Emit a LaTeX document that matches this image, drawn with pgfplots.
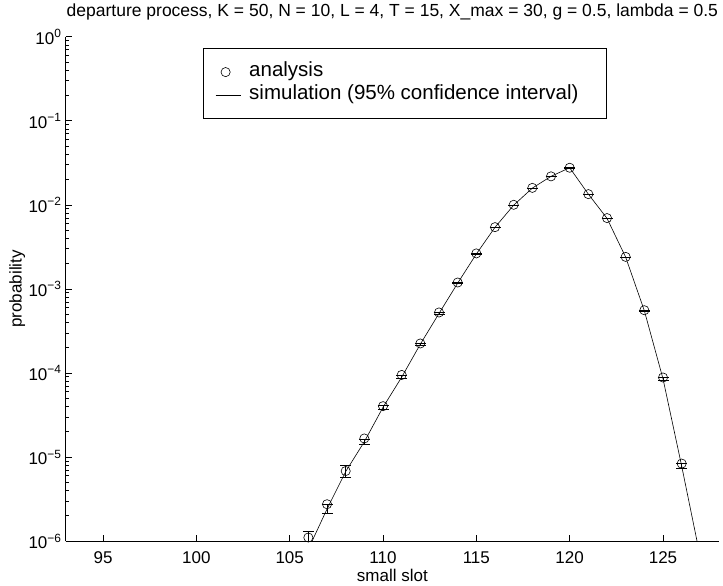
\documentclass[border=0pt]{standalone}
\usepackage{fontspec}
\setmainfont{Liberation Sans}
\usepackage{pgfplots}
\pgfplotsset{compat=1.18}
\usepackage{pgfplotstable}

\pgfplotstableread{
x y
106 1.10e-6
107 2.74e-6
108 6.80e-6
109 1.66e-5
110 4.02e-5
111 9.46e-5
112 2.24e-4
113 5.24e-4
114 1.19e-3
115 2.64e-3
116 5.42e-3
117 1.00e-2
118 1.59e-2
119 2.18e-2
120 2.76e-2
121 1.34e-2
122 6.95e-3
123 2.40e-3
124 5.57e-4
125 8.81e-5
126 8.34e-6
}\analysis

\pgfplotstableread{
x y ep em
106 8.0e-7 5.1e-7 4.0e-7
107 2.4e-6 3.5e-7 2.5e-7
108 6.7e-6 1.26e-6 1.01e-6
109 1.52e-5 1.2e-6 1.2e-6
110 3.9e-5 2.0e-6 2.0e-6
111 8.9e-5 3.5e-6 3.5e-6
112 2.2e-4 6.0e-6 6.0e-6
113 5.1e-4 1.0e-5 1.0e-5
114 1.17e-3 1.5e-5 1.5e-5
115 2.6e-3 2.5e-5 2.5e-5
116 5.4e-3 3.0e-5 3.0e-5
117 9.9e-3 4.0e-5 4.0e-5
118 1.58e-2 5.0e-5 5.0e-5
119 2.18e-2 6.0e-5 6.0e-5
120 2.76e-2 7.0e-5 7.0e-5
121 1.34e-2 5.0e-5 5.0e-5
122 6.9e-3 4.0e-5 4.0e-5
123 2.38e-3 2.5e-5 2.5e-5
124 5.5e-4 1.0e-5 1.0e-5
125 8.5e-5 3.0e-6 3.0e-6
126 7.8e-6 5.0e-7 5.0e-7
127 6.4e-7 0 0
}\simdata

\begin{document}
\begin{tikzpicture}
\begin{axis}[
  at={(0,0)}, anchor=south west,
  scale only axis, width=653.3bp, height=504.3bp,
  xmin=93, xmax=128, ymin=1e-6, ymax=1,
  ymode=log,
  axis lines=left,
  axis line style={-, line width=0.6bp, black},
  tick align=inside,
  major tick length=6.5bp, minor tick length=3.5bp,
  tick style={line width=0.6bp, black},
  xtick={95,100,105,110,115,120,125},
  minor xtick={},
  ytick={1e-6,1e-5,1e-4,1e-3,1e-2,1e-1,1},
  yticklabels={10\textsuperscript{−6},10\textsuperscript{−5},10\textsuperscript{−4},10\textsuperscript{−3},10\textsuperscript{−2},10\textsuperscript{−1},10\textsuperscript{0}},
  minor ytick={2e-6,3e-6,4e-6,5e-6,6e-6,7e-6,8e-6,9e-6,
               2e-5,3e-5,4e-5,5e-5,6e-5,7e-5,8e-5,9e-5,
               2e-4,3e-4,4e-4,5e-4,6e-4,7e-4,8e-4,9e-4,
               2e-3,3e-3,4e-3,5e-3,6e-3,7e-3,8e-3,9e-3,
               2e-2,3e-2,4e-2,5e-2,6e-2,7e-2,8e-2,9e-2,
               2e-1,3e-1,4e-1,5e-1,6e-1,7e-1,8e-1,9e-1},
  /pgf/number format/assume math mode=true,
  ticklabel style={font=\fontsize{17bp}{20bp}\selectfont, inner sep=0pt},
  xticklabel style={anchor=base, yshift=-22.3bp},
  yticklabel style={anchor=base east, yshift=-7.3bp, xshift=-4bp},
  title={departure process, K = 50, N = 10, L = 4, T = 15, X\_max = 30, g = 0.5, lambda = 0.5},
  title style={font=\fontsize{17.5bp}{20bp}\selectfont, at={(axis description cs:0.5,1)}, anchor=base, yshift=14.7bp, inner sep=0pt},
  xlabel={small slot},
  xlabel style={font=\fontsize{17bp}{20bp}\selectfont, at={(axis description cs:0.5,0)}, anchor=base, yshift=-40.7bp, inner sep=0pt},
  ylabel={probability},
  ylabel style={font=\fontsize{17bp}{20bp}\selectfont, at={(axis description cs:-0.0673,0.5)}, anchor=base, inner sep=0pt},
  legend cell align=left,
  legend image code/.code={\draw[mark repeat=2,mark phase=2,#1] plot coordinates {(0bp,0bp) (10bp,0bp) (25bp,0bp)};},
  legend style={at={(axis description cs:0.2102,0.977)}, anchor=north west,
    draw=black, line width=0.6bp, inner xsep=12bp, inner ysep=15.5bp,
    row sep=7bp, column sep=8.3bp,
    font=\fontsize{20.5bp}{23bp}\selectfont,
    nodes={inner sep=0pt, text height=12.5bp, text depth=3.5bp}},
]
\addplot[only marks, mark=o, mark size=4.6bp, black, line width=0.6bp] table[x=x, y=y] {\analysis};
\addlegendentry{analysis}
\addlegendimage{black, line width=0.6bp}
\addlegendentry{\makebox[344.7bp][l]{simulation (95\% confidence interval)}}
\addplot[black, line width=0.6bp, no marks, forget plot] table[x=x, y=y] {\simdata};
\addplot[draw=none, forget plot, restrict x to domain=105.5:126.5,
  error bars/.cd, y dir=both, y explicit,
  error bar style={draw=black, line width=0.6bp},
  error mark options={draw=black, line width=0.6bp, mark size=5.5bp, rotate=90}]
  table[x=x, y=y, y error plus=ep, y error minus=em] {\simdata};
\end{axis}
\pgfresetboundingbox
\path (-65.7bp,-45bp) rectangle (657.3bp,541bp);
\end{tikzpicture}
\end{document}
